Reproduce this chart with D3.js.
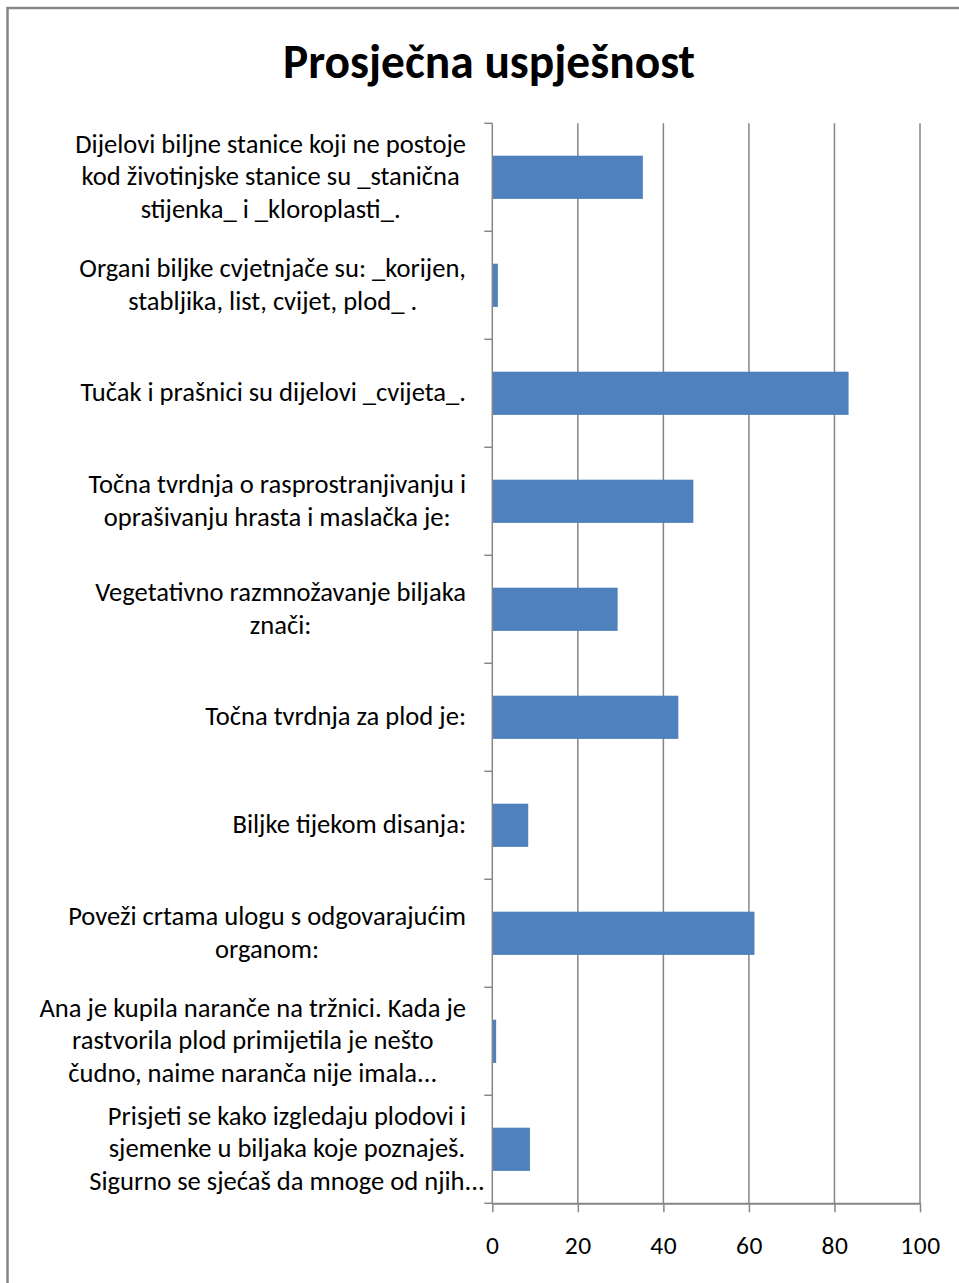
<!DOCTYPE html>
<html><head><meta charset="utf-8">
<script src="https://cdn.jsdelivr.net/npm/d3@7"></script>
<style>
html,body{margin:0;padding:0;background:#fff;}
svg{display:block;}
</style></head>
<body>
<script>
const title = "Prosječna uspješnost";
const categories = [
  ["Dijelovi biljne stanice koji ne postoje","kod životinjske stanice su _stanična","stijenka_ i _kloroplasti_."],
  ["Organi biljke cvjetnjače su: _korijen,","stabljika, list, cvijet, plod_ ."],
  ["Tučak i prašnici su dijelovi _cvijeta_."],
  ["Točna tvrdnja o rasprostranjivanju i","oprašivanju hrasta i maslačka je:"],
  ["Vegetativno razmnožavanje biljaka","znači:"],
  ["Točna tvrdnja za plod je:"],
  ["Biljke tijekom disanja:"],
  ["Poveži crtama ulogu s odgovarajućim","organom:"],
  ["Ana je kupila naranče na tržnici. Kada je","rastvorila plod primijetila je nešto","čudno, naime naranča nije imala..."],
  ["Prisjeti se kako izgledaju plodovi i","sjemenke u biljaka koje poznaješ.","Sigurno se sjećaš da mnoge od njih..."]
];
const values = [35.2, 1.3, 83.3, 47, 29.3, 43.5, 8.4, 61.3, 0.9, 8.8];
const xTicks = [0, 20, 40, 60, 80, 100];

(function(){
const W = 959, H = 1283;
const font = "Carlito, Calibri, 'Liberation Sans Narrow', 'Liberation Sans', sans-serif";
const svg = d3.select("body").append("svg").attr("width", W).attr("height", H);

svg.append("path").attr("d", `M7.5,${H} L7.5,8 L${W},8`).attr("fill","none")
  .attr("stroke","#868686").attr("stroke-width",2.5);

const pL = 492.3, pR = 920, pT = 123.3, pB = 1203.3;
const x = d3.scaleLinear().domain([0,100]).range([pL,pR]);
const ids = d3.range(categories.length);
const y = d3.scaleBand().domain(ids).range([pT,pB]).paddingInner(0.6).paddingOuter(0.3);
const bandStep = y.step();

const axisColor = "#868686";
svg.append("g").selectAll("line").data(xTicks.slice(1)).join("line")
  .attr("x1", d=>x(d)).attr("x2", d=>x(d)).attr("y1", pT).attr("y2", pB)
  .attr("stroke", axisColor).attr("stroke-width", 1.5);

svg.append("g").selectAll("rect").data(values).join("rect")
  .attr("x", x(0)).attr("y", (d,i)=>y(i)).attr("width", d=>x(d)-x(0)).attr("height", y.bandwidth())
  .attr("fill", "#4F81BD");

svg.append("line").attr("x1", pL).attr("x2", pL).attr("y1", pT).attr("y2", pB)
  .attr("stroke", axisColor).attr("stroke-width", 1.5);
svg.append("g").selectAll("line").data(d3.range(categories.length+1)).join("line")
  .attr("x1", pL-8).attr("x2", pL).attr("y1", d=>pT+d*bandStep).attr("y2", d=>pT+d*bandStep)
  .attr("stroke", axisColor).attr("stroke-width", 1.5);

const xAxis = d3.axisBottom(x).tickValues(xTicks).tickSize(9).tickPadding(24).tickSizeOuter(0);
const gx = svg.append("g").attr("transform", `translate(0,${pB})`).call(xAxis);
gx.select(".domain").attr("stroke", axisColor).attr("stroke-width", 2);
gx.selectAll(".tick line").attr("stroke", axisColor).attr("stroke-width", 1.5);
gx.selectAll(".tick text").attr("font-family", font).attr("font-size", 25.5)
  .attr("letter-spacing", 0.6).attr("fill", "#000");

const lineH = 32.6;
const lg = svg.append("g");
categories.forEach((lines, i) => {
  const cy = pT + (i + 0.5) * bandStep;
  const t = lg.append("text").attr("text-anchor","middle").attr("font-family", font)
    .attr("font-size", 22).attr("fill","#000");
  lines.forEach((ln, j) => {
    t.append("tspan").attr("x", 0).attr("y", cy + (j - (lines.length-1)/2) * lineH)
      .attr("dy","0.3em").text(ln);
  });
});
const probe = lg.select("text").select("tspan").node();
const w0 = probe.getComputedTextLength();
const fs = 22 * 391 / w0;
lg.selectAll("text").attr("font-size", fs);
// centre each block on the width of its first (wrapping) line, right edge at 466
lg.selectAll("text").each(function(){
  const first = d3.select(this).select("tspan").node();
  const mw = first.getComputedTextLength();
  d3.select(this).selectAll("tspan").attr("x", 466 - mw/2);
});

const tt = svg.append("text").attr("x", 489).attr("y", 61).attr("dy","0.35em")
  .attr("text-anchor","middle").attr("font-family", font).attr("font-weight","bold")
  .attr("font-size", 40).attr("fill","#000").text(title);
const tw = tt.node().getComputedTextLength();
tt.attr("font-size", 40 * 412 / tw);
})();
</script>
</body></html>
